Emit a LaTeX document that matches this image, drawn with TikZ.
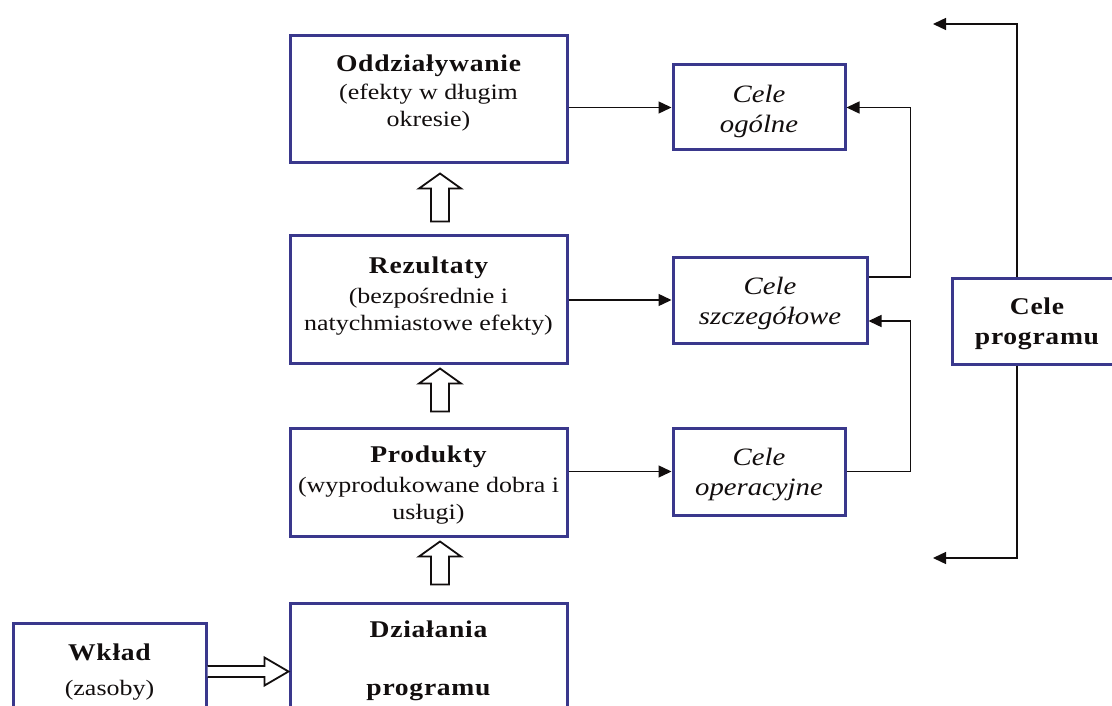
\documentclass[tikz,border=0pt]{standalone}
\usepackage{fontspec}
\setmainfont{Liberation Serif}[FakeStretch=1.18]
\newfontfamily\bfam{Liberation Serif}[FakeStretch=1.15,LetterSpace=3]
\newfontfamily\ifam{Liberation Serif}[FakeStretch=1.15]
\usetikzlibrary{arrows.meta,calc}
\definecolor{boxblue}{RGB}{58,56,140}
\definecolor{ink}{RGB}{18,14,14}
\tikzset{
  box/.style={draw=boxblue, line width=3pt, fill=white, inner sep=0pt},
  txt/.style={align=center, text=ink, inner sep=0pt, font=\fontsize{22}{27}\selectfont},
  itx/.style={align=center, text=ink, inner sep=0pt, font=\ifam\itshape\fontsize{25}{30}\selectfont},
  btx/.style={align=center, text=ink, inner sep=0pt, font=\bfam\bfseries\fontsize{24}{30}\selectfont},
  arr/.style={draw=ink, line width=1.4pt, -{Triangle[length=13pt,width=12pt]}},
  hollow/.style={draw=ink, line width=1.8pt, fill=white, line join=miter}
}
\newcommand\hollowup[2]{\draw[hollow] let \p1=#1, \p2=#2 in
  (\x1-9pt,\y2) -- (\x1+9pt,\y2) -- (\x1+9pt,\y1-15pt) -- (\x1+21pt,\y1-15pt)
  -- (\x1,\y1) -- (\x1-21pt,\y1-15pt) -- (\x1-9pt,\y1-15pt) -- cycle;}
\begin{document}
\begin{tikzpicture}[x=1pt,y=-1pt]
\useasboundingbox (0,0) rectangle (1112,706);
\clip (0,0) rectangle (1112,706);
\fill[white] (0,0) rectangle (1112,706);

% left column boxes
\node[box, minimum width=277, minimum height=127] (odd) at (428.5,99.5) {};
\node[box, minimum width=277, minimum height=128] (rez) at (428.5,299) {};
\node[box, minimum width=277, minimum height=108] (prod) at (428.5,482) {};
\node[box, minimum width=277, minimum height=127] (dzial) at (428.5,666.5) {};
\node[box, minimum width=193, minimum height=107] (wklad) at (109.5,676.5) {};

% goal boxes
\node[box, minimum width=172, minimum height=85] (ogol) at (759,107.5) {};
\node[box, minimum width=194, minimum height=86] (szcz) at (770,300) {};
\node[box, minimum width=172, minimum height=87] (oper) at (759,471.5) {};
\node[box, minimum width=170, minimum height=86] (prog) at (1037,321) {};

% texts
\node[txt] (oddt) at (428.5,93) {{\bfam\bfseries\fontsize{24}{27}\selectfont Oddziaływanie}\\[1pt](efekty w długim\\okresie)};
\node[txt] (rezt) at (428.5,296) {{\bfam\bfseries\fontsize{24}{27}\selectfont Rezultaty}\\[3pt](bezpośrednie i\\natychmiastowe efekty)};
\node[txt] (prodt) at (428.5,485.5) {{\bfam\bfseries\fontsize{24}{27}\selectfont Produkty}\\[3pt](wyprodukowane dobra i\\usługi)};
\node[txt] (dzialt) at (428.5,661) {{\bfam\bfseries\fontsize{24}{27}\selectfont Działania}\\[31pt]{\bfam\bfseries\fontsize{24}{27}\selectfont programu}};
\node[txt] (wkladt) at (109.5,672) {{\bfam\bfseries\fontsize{24}{27}\selectfont Wkład}\\[8pt](zasoby)};
\node[itx] (ogolt) at (759,111) {Cele\\ogólne};
\node[itx] (szczt) at (770,303) {Cele\\szczegółowe};
\node[itx] (opert) at (759,474.5) {Cele\\operacyjne};
\node[btx] (progt) at (1037,324) {Cele\\programu};

% horizontal arrows to goals
\draw[arr] (odd.east |- ogol.west) -- (ogol.west);
\draw[arr] (rez.east |- szcz.west) -- (szcz.west);
\draw[arr] (prod.east |- oper.west) -- (oper.west);

% feedback lines on the right
\draw[arr] ([yshift=23pt]szcz.east) -- ++(42,0) |- (ogol.east);
\draw[arr] (oper.east) -- ++(64,0) |- ([yshift=-21pt]szcz.east);

% programme goals
\coordinate (ptop) at (933,24);
\coordinate (pbot) at (933,558);
\draw[arr] ([xshift=-20pt]prog.north) |- (ptop);
\draw[arr] ([xshift=-20pt]prog.south) |- (pbot);

% hollow arrows
\hollowup{($(odd.south)+(11.5,9)$)}{($(rez.north)+(11.5,-12)$)}
\hollowup{($(rez.south)+(11.5,4)$)}{($(prod.north)+(11.5,-15)$)}
\hollowup{($(prod.south)+(11.5,4)$)}{($(dzial.north)+(11.5,-17)$)}

% double arrow Wklad -> Dzialania
\draw[hollow] let \p1=([yshift=5pt]wklad.east), \p2=(dzial.west) in
  (\x1,\y1+5.5pt) -- (\x2-24pt,\y1+5.5pt) -- (\x2-24pt,\y1+14pt) -- (\x2,\y1)
  -- (\x2-24pt,\y1-14pt) -- (\x2-24pt,\y1-5.5pt) -- (\x1,\y1-5.5pt);
\end{tikzpicture}
\end{document}
